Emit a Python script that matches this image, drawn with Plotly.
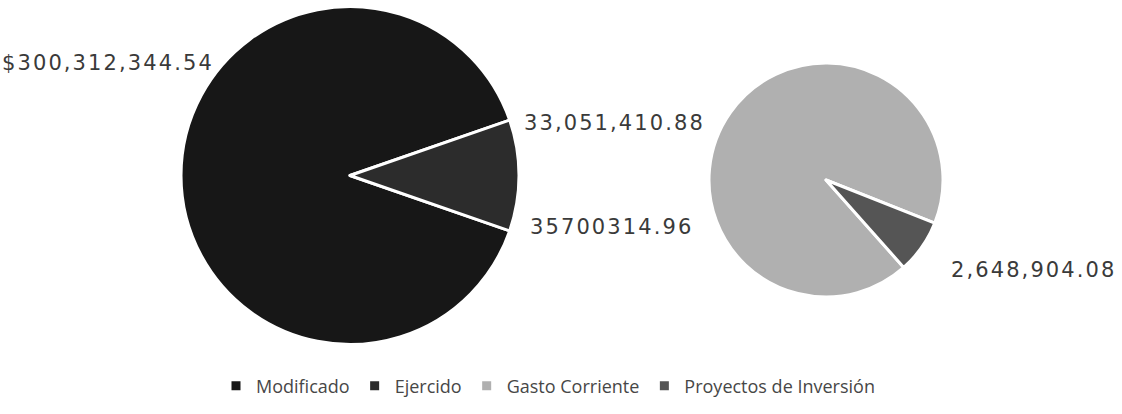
import plotly.graph_objects as go

# Data
left_labels = ["Modificado", "Ejercido"]
left_values = [300312344.54, 35700314.96]
right_labels = ["Gasto Corriente", "Proyectos de Inversión"]
right_values = [33051410.88, 2648904.08]
label_texts = ["$300,312,344.54", "35700314.96", "33,051,410.88", "2,648,904.08"]

left_colors = ["#171717", "#2c2c2c"]
right_colors = ["#b0b0b0", "#555555"]

W, H = 1122, 414

# rotation so that Ejercido wedge is centred at 3 o'clock
frac_e = left_values[1] / sum(left_values)
left_rot = 90 + frac_e * 360 / 2
frac_p = right_values[1] / sum(right_values)
right_rot = 125 + frac_p * 360 / 2

def px(x):
    return x / W

def py(y):
    return 1 - y / H

def dom(cx, cy, r):
    return dict(x=[px(cx - r), px(cx + r)], y=[max(0, py(cy + r)), min(1, py(cy - r))])

fig = go.Figure()
fig.add_trace(go.Pie(
    labels=left_labels, values=left_values, sort=False, direction="clockwise",
    rotation=left_rot, textinfo="none", hoverinfo="label+value",
    marker=dict(colors=left_colors, line=dict(color="white", width=3)),
    domain=dom(350, 175.5, 169),
))
fig.add_trace(go.Pie(
    labels=right_labels, values=right_values, sort=False, direction="clockwise",
    rotation=right_rot, textinfo="none", hoverinfo="label+value",
    marker=dict(colors=right_colors, line=dict(color="white", width=3)),
    domain=dom(826, 180, 117),
))

label_pos = [(108, 63), (611, 227), (614, 123), (1033, 270)]
for t, (x, y) in zip(label_texts, label_pos):
    fig.add_annotation(x=px(x), y=py(y), xref="paper", yref="paper",
                       text='<span style="letter-spacing:2.1px">' + t + '</span>',
                       showarrow=False, xanchor="center", yanchor="middle",
                       font=dict(family="DejaVu Sans", size=21, color="#3a3a3a"))

fig.update_layout(
    width=W, height=H, margin=dict(l=0, r=0, t=0, b=0),
    paper_bgcolor="white", plot_bgcolor="white",
    showlegend=True,
    legend=dict(orientation="h", x=px(548), xanchor="center", y=py(386), yanchor="middle",
                font=dict(family="Open Sans", size=18, color="#474747"),
                itemwidth=30, tracegroupgap=0),
)

fig.write_html("out.html", config={"displayModeBar": False},
               post_script="document.body.style.margin='0px';")
